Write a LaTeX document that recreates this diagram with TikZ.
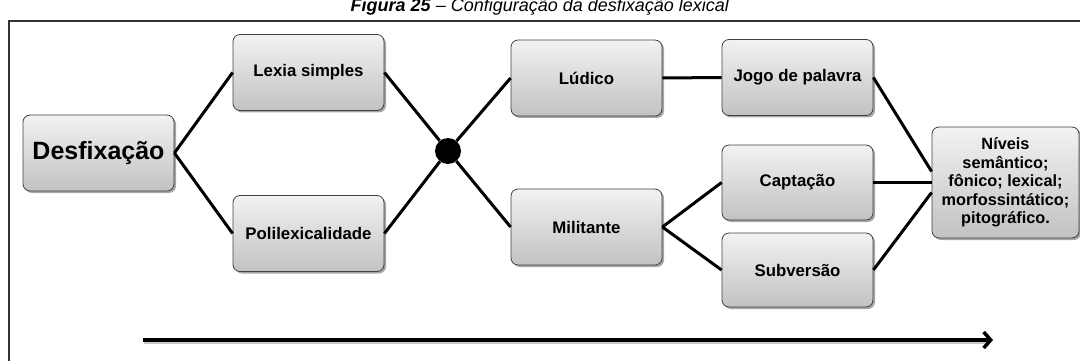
\documentclass[tikz,border=0pt]{standalone}
\usepackage{fontspec}
\setmainfont{Liberation Sans}
\usetikzlibrary{shadows,arrows.meta,calc}
\begin{document}
\begin{tikzpicture}[x=1pt,y=-1pt,
 box/.style={draw=black!75, line width=0.8pt, rounded corners=7pt, top color=gray!10, bottom color=gray!48,
   drop shadow={shadow xshift=2pt, shadow yshift=-2pt, opacity=0.35, fill=black},
   minimum width=151pt, minimum height=76pt, align=center, inner sep=2pt,
   font=\bfseries\fontsize{16.8}{18.5}\selectfont},
 conn/.style={line width=3pt, black},
 frame/.style={line width=1.2pt, black!80},
]
\useasboundingbox (0,0) rectangle (1080,361);
% title (cut off at top)
\node[anchor=base, inner sep=0, font=\fontsize{18}{20}\selectfont] (title) at (540,12)
  {\textbf{\textit{Figura 25}} \textit{– Configuração da desfixação lexical}};
% frame
\coordinate (f1) at (9,365);
\coordinate (f2) at (9,21);
\coordinate (f3) at (1085,21);
\draw[frame] (f1) -- (f2) -- (f3);
% nodes
\node[box, font=\bfseries\fontsize{25}{28}\selectfont] (desf) at (98.5,153) {Desfixação};
\node[box] (lexia) at (308.5,72.5) {Lexia simples};
\node[box] (poli) at (308.5,233.5) {Polilexicalidade};
\node[circle, fill=black, minimum size=26pt, inner sep=0pt] (dot) at (448,151) {};
\node[box] (ludico) at (586.5,78) {Lúdico};
\node[box] (milit) at (586.5,227) {Militante};
\node[box] (jogo) at (797.5,77.5) {Jogo de palavra};
\node[box, minimum height=75pt] (capt) at (797.5,182.5) {Captação};
\node[box, minimum height=74pt] (subv) at (797.5,270) {Subversão};
\node[box, minimum width=147pt, minimum height=111pt, font=\bfseries\fontsize{16.3}{18.5}\selectfont] (niv) at (1005.5,182.5)
  {Níveis\\semântico;\\fônico; lexical;\\morfossintático;\\pitográfico.};
% connectors
\draw[conn] (desf.east) -- (lexia.west);
\draw[conn] (desf.east) -- (poli.west);
\draw[conn] (lexia.east) -- (dot);
\draw[conn] (poli.east) -- (dot);
\draw[conn] (dot) -- (ludico.west);
\draw[conn] (dot) -- (milit.west);
\draw[conn] (ludico.east) -- (jogo.west);
\draw[conn] (milit.east) -- (capt.west);
\draw[conn] (milit.east) -- (subv.west);
\draw[conn] (jogo.east) -- ($(niv.west)+(0,-11)$);
\draw[conn] (capt.east) -- (niv.west);
\draw[conn] (subv.east) -- ($(niv.west)+(0,10)$);
% bottom arrow
\coordinate (as) at (143,340);
\coordinate (ae) at (993,340);
\draw[line width=3pt, black!22] ($(as)+(1,2.5)$) -- ($(ae)+(-6,2.5)$);
\draw[line width=3.5pt, -{Straight Barb[length=7pt,width=16pt]}] (as) -- (ae);
\end{tikzpicture}
\end{document}
